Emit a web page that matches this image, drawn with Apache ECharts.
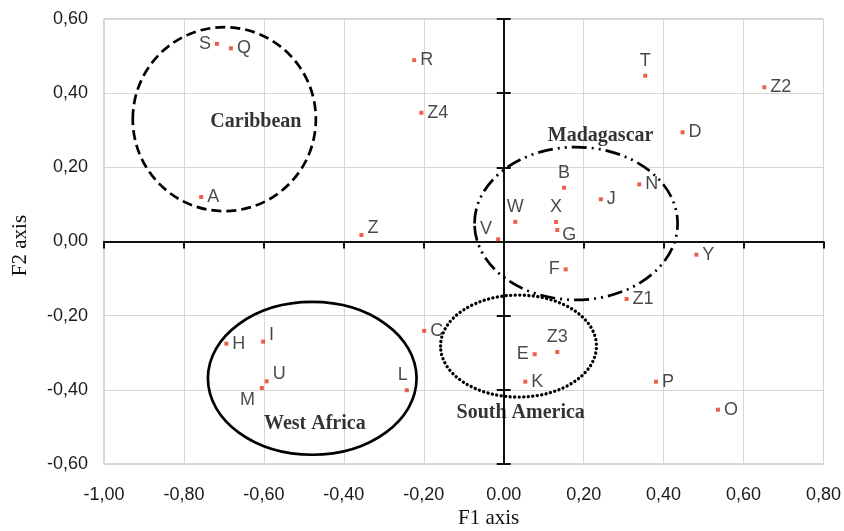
<!DOCTYPE html>
<html><head><meta charset="utf-8">
<script src="https://cdn.jsdelivr.net/npm/echarts@6/dist/echarts.min.js"></script>
<style>html,body{margin:0;padding:0;background:#fff}#c{width:844px;height:531px}</style>
</head><body><div id="c"></div>
<script>
// ---- data ----
const pointNames = ['S','Q','A','Z','R','Z4','T','Z2','D','B','N','J','W','X','G','V','Y','F','Z1','C','E','Z3','K','P','O','H','I','U','M','L'];
const f1Values = [-0.7175,-0.6825,-0.757,-0.356,-0.224,-0.206,0.354,0.652,0.4475,0.151,0.339,0.243,0.029,0.131,0.134,-0.014,0.482,0.155,0.3075,-0.199,0.0775,0.134,0.054,0.381,0.536,-0.694,-0.602,-0.593,-0.605,-0.2425];
const f2Values = [0.533,0.521,0.120,0.0175,0.489,0.347,0.447,0.416,0.2945,0.145,0.154,0.114,0.053,0.0526,0.031,0.006,-0.0356,-0.075,-0.155,-0.241,-0.304,-0.298,-0.378,-0.378,-0.4535,-0.2756,-0.270,-0.377,-0.395,-0.401];
const labelPlacement = ['left','right','right','rightUp','right','right','top','right','right','top','right','right','top','top','rightDown','leftUp','right','left','right','right','left','top','right','right','right','right','rightUp','rightUp','leftDown','topLeft'];

const groupNames = ['Caribbean','Madagascar','South America','West Africa'];
const groupCenterF1 = [-0.699, 0.181, 0.037, -0.479];
const groupCenterF2 = [0.330, 0.0485, -0.282, -0.369];
const groupRadiusF1 = [0.229, 0.254, 0.195, 0.261];
const groupRadiusF2 = [0.248, 0.206, 0.1375, 0.206];
const groupLabelF1 = [-0.62, 0.2425, 0.0425, -0.4725];
const groupLabelF2 = [0.322, 0.2845, -0.4625, -0.492];

const axisMin = { f1: -1, f2: -0.6 };
const axisMax = { f1: 0.8, f2: 0.6 };
const axisStep = 0.2;

// ---- styles ----
const groupDash = [[10,5],[15,5,2,5,2,5],[0.1,4.4],null];
const placeMap = {
  left:{position:'left',offset:[0,0]},
  right:{position:'right',offset:[0,0]},
  top:{position:'top',offset:[0,0]},
  rightUp:{position:'right',offset:[0,-7]},
  rightDown:{position:'right',offset:[-1,5]},
  leftUp:{position:'left',offset:[0,-10]},
  leftDown:{position:'left',offset:[-1,12]},
  topLeft:{position:'top',offset:[-4,0]}
};
const fmt = (v) => v.toFixed(2).replace('.', ',');
const fmtX = (v) => Math.abs(v) < 1e-9 ? '0.00' : fmt(v);

const pts = pointNames.map((n,i)=>({
  name:n, value:[f1Values[i], f2Values[i]],
  label:{position:placeMap[labelPlacement[i]].position, offset:placeMap[labelPlacement[i]].offset}
}));
const ellData = groupNames.map((n,i)=>[groupCenterF1[i],groupCenterF2[i],groupRadiusF1[i],groupRadiusF2[i]]);
const grpLabels = groupNames.map((n,i)=>({name:n, value:[groupLabelF1[i],groupLabelF2[i]]}));

const lblFont = {fontFamily:'Liberation Sans', fontSize:18, color:'#1a1a1a'};
const chart = echarts.init(document.getElementById('c'));
chart.setOption({
  animation:false,
  backgroundColor:'#fff',
  grid:{left:104,right:20,top:19,bottom:67,show:true,borderColor:'#b5adad',borderWidth:1,containLabel:false},
  xAxis:[
    {type:'value',min:axisMin.f1,max:axisMax.f1,interval:axisStep,position:'bottom',
     axisLine:{show:false,onZero:false},axisTick:{show:false},
     splitLine:{show:true,lineStyle:{color:'#dcd3d3',width:1}},
     axisLabel:Object.assign({formatter:fmtX,margin:22},lblFont)},
    {type:'value',min:axisMin.f1,max:axisMax.f1,interval:axisStep,position:'bottom',
     axisLine:{show:true,onZero:true,onZeroAxisIndex:0,lineStyle:{color:'#111',width:2}},
     axisTick:{show:true,length:7,lineStyle:{color:'#111',width:2}},
     axisLabel:{show:false},splitLine:{show:false}}
  ],
  yAxis:[
    {type:'value',min:axisMin.f2,max:axisMax.f2,interval:axisStep,position:'left',
     axisLine:{show:false,onZero:false},axisTick:{show:false},
     splitLine:{show:true,lineStyle:{color:'#dcd3d3',width:1}},
     axisLabel:Object.assign({formatter:fmt,margin:16},lblFont),
     name:'F2 axis',nameLocation:'middle',nameGap:73,nameRotate:90,
     nameTextStyle:{fontFamily:'Liberation Serif',fontSize:21,color:'#111',padding:[0,0,0,-8]}},
    {type:'value',min:axisMin.f2,max:axisMax.f2,interval:axisStep,position:'left',
     axisLine:{show:true,onZero:true,onZeroAxisIndex:0,lineStyle:{color:'#111',width:2}},
     axisTick:{show:true,length:7,lineStyle:{color:'#111',width:2}},
     axisLabel:{show:false},splitLine:{show:false}},
    {type:'value',min:axisMin.f2,max:axisMax.f2,interval:axisStep,position:'left',
     axisLine:{show:false,onZero:true,onZeroAxisIndex:0},
     axisTick:{show:true,inside:true,length:7,lineStyle:{color:'#111',width:2}},
     axisLabel:{show:false},splitLine:{show:false}}
  ],
  graphic:[{type:'text',left:458,top:508,style:{text:'F1 axis',font:'21px "Liberation Serif"',fill:'#111'}}],
  series:[
    {type:'custom',xAxisIndex:0,yAxisIndex:0,data:ellData,silent:true,z:3,
     renderItem:function(params,api){
       const c = api.coord([api.value(0),api.value(1)]);
       const s = api.size([api.value(2),api.value(3)]);
       const d = groupDash[params.dataIndex];
       return {type:'ellipse',shape:{cx:c[0],cy:c[1],rx:s[0],ry:s[1]},
         style:{fill:null,stroke:'#000',lineWidth:d && d[0]<1 ? 3.3 : 2.7,lineDash:d||null,lineCap:d && d[0]<1 ? 'round':'butt'}};
     }},
    {type:'scatter',xAxisIndex:0,yAxisIndex:0,data:pts,symbol:'rect',symbolSize:4,z:5,
     itemStyle:{color:'#e63a22'},
     label:Object.assign({show:true,formatter:'{b}',distance:4},lblFont)},
    {type:'scatter',xAxisIndex:0,yAxisIndex:0,data:grpLabels,symbolSize:1,z:6,silent:true,
     itemStyle:{color:'rgba(0,0,0,0)'},
     label:{show:true,position:'inside',formatter:'{b}',fontFamily:'Liberation Serif',fontWeight:'bold',fontSize:20,color:'#000',textBorderWidth:0}}
  ]
});
</script></body></html>
